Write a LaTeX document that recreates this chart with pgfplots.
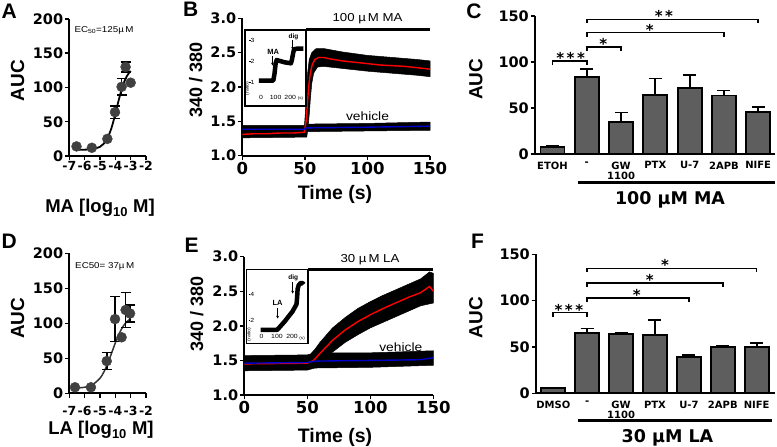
\documentclass[border=0pt]{standalone}
\usepackage{pgfplots}
\pgfplotsset{compat=1.18}
\usepackage{fontspec}
\setmainfont{Liberation Sans}
\newfontfamily\tickfont{DejaVu Sans}
\newfontfamily\annfont{Liberation Sans}[FakeStretch=1.15]
\usetikzlibrary{arrows.meta}
\newcommand\tf[1]{\tickfont\bfseries\fontsize{#1}{#1}\selectfont}
\newcommand\af[1]{\annfont\fontsize{#1}{#1}\selectfont}
\newcommand\lf[1]{\bfseries\fontsize{#1}{#1}\selectfont}
\definecolor{bargray}{gray}{0.37}
\definecolor{dotgray}{gray}{0.25}
\pgfplotsset{
  prism/.style={scale only axis, anchor=south west, clip=false,
    axis x line=bottom, axis y line=left, axis line style={line width=1.8pt,-},
    tick style={black, line width=1.5pt}, major tick length=4.5pt, tick align=outside,
    yticklabel style={font=\tf{14.5}, inner sep=1.5pt},
    xticklabel style={font=\tf{14.5}, inner sep=2pt}},
  inset/.style={scale only axis, anchor=south west, clip=false,
    xtick=\empty, ytick=\empty, axis line style={line width=1.1pt},
    axis background/.style={fill=white}},
  ebar/.style={error bars/.cd, y dir=both, y explicit,
    error bar style={line width=1.6pt, black},
    error mark options={rotate=90, line width=1.6pt, mark size=5pt, black}},
  bars/.style={ybar, bar width=24pt, fill=bargray, draw=black, line width=1.8pt,
    error bars/.cd, y dir=plus, y explicit,
    error bar style={line width=1.8pt, black},
    error mark options={rotate=90, line width=1.8pt, mark size=6.5pt, black}},
}
\begin{document}
\begin{tikzpicture}
\path[use as bounding box] (0,0) rectangle (777pt,447pt);

% ---------------- Panel A ----------------
\begin{axis}[prism, at={(69.3pt,291pt)}, width=76.7pt, height=137pt,
  xmin=-7, xmax=-2, ymin=0, ymax=200,
  xtick={-7,-6,-5,-4,-3,-2}, xticklabels={-7,-6,-5,-4,-3,-2},
  ytick={0,50,100,150,200}, yticklabels={0,50,100,150,200},
  xticklabel style={font=\tf{12.5}, inner sep=1pt}]
\addplot[black, line width=1.8pt, smooth] coordinates {
(-6.6,9.04)(-6.0,9.23)(-5.5,10.0)(-5.0,13.4)(-4.75,18.0)(-4.5,26.5)(-4.25,40.9)(-4.0,61.4)(-3.75,84.1)(-3.5,103.5)(-3.25,116.6)(-3.0,124.2)};
\addplot[black, only marks, mark=none, ebar] coordinates {
(-4.02,64) +- (0,9)
(-3.59,101) +- (0,12)
(-3.33,130) +- (0,7)};
\addplot[only marks, mark=*, mark size=5pt, mark options={fill=dotgray, draw=dotgray}] coordinates {
(-6.53,14)(-5.53,12)(-4.52,25)(-4.02,64)(-3.59,101)(-3.33,130)(-3.0,107)};
\end{axis}

% ---------------- Panel D ----------------
\begin{axis}[prism, at={(69.3pt,53.7pt)}, width=76.7pt, height=140pt,
  xmin=-7, xmax=-2, ymin=0, ymax=200,
  xtick={-7,-6,-5,-4,-3,-2}, xticklabels={-7,-6,-5,-4,-3,-2},
  ytick={0,50,100,150,200}, yticklabels={0,50,100,150,200},
  xticklabel style={font=\tf{12.5}, inner sep=1pt, yshift=-7pt}]
\addplot[black!80, line width=1.5pt, smooth] coordinates {
(-6.6,7.4)(-6.0,8.65)(-5.5,12.1)(-5.0,21.5)(-4.75,30.3)(-4.5,42.4)(-4.25,57.0)(-4.0,72.0)(-3.75,85.2)(-3.5,95.4)(-3.25,102.3)(-3.0,106.7)};
\addplot[black, only marks, mark=none, ebar] coordinates {
(-4.56,46) +- (0,12)
(-4.02,106) +- (0,32)
(-3.33,119) +- (0,25)
(-3.04,114) +- (0,12)};
\addplot[only marks, mark=*, mark size=5pt, mark options={fill=dotgray, draw=dotgray}] coordinates {
(-6.63,8.6)(-5.59,8.6)(-4.56,46)(-4.02,106)(-3.59,80)(-3.33,119)(-3.04,114)};
\end{axis}

% ---------------- Panel B ----------------
\begin{axis}[prism, at={(242.3pt,291.3pt)}, width=187.7pt, height=137.4pt,
  xmin=0, xmax=150, ymin=1, ymax=3,
  xtick={0,50,100,150}, xticklabels={0,50,100,150},
  ytick={1,1.5,2,2.5,3}, yticklabels={1.0,1.5,2.0,2.5,3.0},
  xticklabel style={font=\tf{16.5}}]
\addplot[fill=black, draw=black, line width=0.5pt] coordinates {
(0,1.44)(49.5,1.44)(51,1.46)(100,1.47)(150,1.49)(150,1.37)(100,1.36)(51,1.35)(49.5,1.33)(0,1.33)} -- cycle;
\addplot[fill=black, draw=black, line width=0.5pt] coordinates {
(0,1.37)(49.5,1.40)(50.3,1.6)(51.2,1.9)(52.2,2.2)(53.5,2.4)(55.5,2.5)(59,2.56)(65,2.56)(80,2.51)(100,2.46)(120,2.43)(140,2.40)(150,2.38)
(150,2.15)(140,2.17)(120,2.20)(100,2.23)(80,2.27)(65,2.30)(60,2.29)(57,2.2)(55.5,2.05)(54.5,1.85)(53.5,1.6)(52.5,1.4)(51.5,1.27)(49.5,1.27)(0,1.26)} -- cycle;
\addplot[red, line width=1.4pt] coordinates {
(0,1.31)(10,1.32)(20,1.32)(30,1.33)(40,1.33)(49.5,1.34)(51,1.5)(52,1.75)(53,2.0)(54,2.15)(55,2.26)(56,2.33)(58,2.40)(61,2.43)(65,2.43)(70,2.41)(80,2.38)(90,2.36)(100,2.34)(110,2.32)(120,2.31)(130,2.30)(140,2.28)(150,2.26)};
\addplot[blue!80!black, line width=1.4pt] coordinates {
(0,1.385)(49.5,1.385)(51,1.405)(100,1.415)(150,1.43)};
\end{axis}

% inset B
\begin{axis}[inset, at={(245pt,341pt)}, width=61pt, height=76pt,
  xmin=-110, xmax=308, ymin=-0.14, ymax=3.51]
\addplot[black, line width=4.5pt, line join=round] coordinates {
(-15,1.08)(84,1.08)(92,1.4)(100,1.9)(107,2.07)(130,2.02)(160,1.96)(205,1.91)(212,2.1)(220,2.4)(226,2.58)(250,2.62)(290,2.62)};
\node[font=\af{6}] at (axis cs:-58,3) {3};
\node[font=\af{6}] at (axis cs:-58,2) {2};
\node[font=\af{6}] at (axis cs:-58,1) {1};
\draw[line width=0.5pt] (axis cs:-82,3)--(axis cs:-72,3) (axis cs:-82,2)--(axis cs:-72,2) (axis cs:-82,1)--(axis cs:-72,1);
\node[font=\af{6}] at (axis cs:0,0.28) {0};
\node[font=\af{6}] at (axis cs:100,0.28) {100};
\node[font=\af{6}] at (axis cs:200,0.28) {200};
\node[font=\af{4}] at (axis cs:270,0.2) {(s)};
\node[font=\af{4.5}, rotate=90] at (axis cs:-93,0.71) {(ratio)};
\node[font=\lf{7.5}] at (axis cs:84,2.46) {MA};
\draw[-{Stealth[length=3pt,width=3pt]}, line width=0.8pt] (axis cs:78,2.24) -- (axis cs:78,1.8);
\node[font=\lf{6.5}] at (axis cs:222,3.2) {dig};
\draw[-{Stealth[length=3pt,width=3pt]}, line width=0.8pt] (axis cs:217,3.02) -- (axis cs:217,2.55);
\end{axis}

% ---------------- Panel E ----------------
\begin{axis}[prism, at={(244.3pt,52pt)}, width=189pt, height=138.3pt,
  xmin=0, xmax=150, ymin=1, ymax=3,
  xtick={0,50,100,150}, xticklabels={0,50,100,150},
  ytick={1,1.5,2,2.5,3}, yticklabels={1.0,1.5,2.0,2.5,3.0},
  xticklabel style={font=\tf{16.5}}]
\addplot[fill=black, draw=black, line width=0.5pt] coordinates {
(0,1.57)(50,1.58)(56,1.61)(100,1.61)(150,1.64)(150,1.43)(100,1.40)(56,1.39)(50,1.36)(0,1.35)} -- cycle;
\addplot[fill=black, draw=black, line width=0.5pt] coordinates {
(48,1.52)(52,1.58)(56,1.66)(60,1.76)(70,1.97)(80,2.12)(90,2.25)(100,2.35)(110,2.44)(120,2.52)(130,2.60)(140,2.68)(147,2.78)(150,2.76)
(150,2.33)(140,2.29)(130,2.21)(120,2.13)(110,2.05)(100,1.97)(90,1.87)(80,1.76)(70,1.62)(62,1.52)(55,1.48)} -- cycle;
\addplot[red, line width=1.4pt] coordinates {
(0,1.45)(50,1.46)(55,1.50)(60,1.60)(70,1.79)(80,1.94)(90,2.06)(100,2.16)(110,2.25)(120,2.33)(130,2.41)(140,2.48)(147,2.57)(150,2.50)};
\addplot[blue!80!black, line width=1.4pt] coordinates {
(0,1.46)(50,1.47)(56,1.49)(100,1.50)(140,1.51)(150,1.54)};
\end{axis}

% inset E
\begin{axis}[inset, at={(246.5pt,103.7pt)}, width=61.5pt, height=73.8pt,
  xmin=-96.8, xmax=300, ymin=0.288, ymax=5.88]
\addplot[black, line width=4.5pt, line join=round] coordinates {
(-5,1.3)(100,1.3)(110,1.42)(150,1.95)(200,2.7)(226,3.25)(230,3.8)(233,4.4)(240,4.7)(252,4.85)(265,4.85)(272,4.75)};
\node[font=\af{6}] at (axis cs:-60,4) {4};
\node[font=\af{6}] at (axis cs:-60,2) {2};
\draw[line width=0.5pt] (axis cs:-82,4)--(axis cs:-72,4) (axis cs:-82,2)--(axis cs:-72,2);
\node[font=\af{6}] at (axis cs:0,0.8) {0};
\node[font=\af{6}] at (axis cs:100,0.8) {100};
\node[font=\af{6}] at (axis cs:197,0.8) {200};
\node[font=\af{4}] at (axis cs:262,0.68) {(s)};
\node[font=\af{4.5}, rotate=90] at (axis cs:-80,0.95) {(ratio)};
\node[font=\lf{7.5}] at (axis cs:104,3.36) {LA};
\draw[-{Stealth[length=3pt,width=3pt]}, line width=0.8pt] (axis cs:104,2.96) -- (axis cs:104,2.15);
\node[font=\lf{6.5}] at (axis cs:205,5.28) {dig};
\draw[-{Stealth[length=3pt,width=3pt]}, line width=0.8pt] (axis cs:201,4.97) -- (axis cs:201,4.05);
\end{axis}

% ---------------- Panel C ----------------
\begin{axis}[prism, at={(535pt,293pt)}, width=240pt, height=138pt,
  xmin=-0.51, xmax=6.49, ymin=0, ymax=150,
  ytick={0,50,100,150}, yticklabels={0,50,100,150},
  xtick={0,1,2,3,4,5,6}, xticklabels={ETOH,-,{GW\\1100},PTX,U-7,2APB,NIFE},
  xtick style={draw=none},
  xticklabel style={font=\tf{10}, align=center, anchor=north, yshift=-1pt}]
\addplot[bars] coordinates {
(0,8) +- (0,1)
(1,84) +- (0,8)
(2,34.5) +- (0,10.5)
(3,64) +- (0,18)
(4,72) +- (0,14)
(5,63.5) +- (0,5.5)
(6,45.7) +- (0,5.3)};
\draw[line width=1.6pt] (axis cs:0,96.7)--(axis cs:0,101.1)--(axis cs:1,101.1)--(axis cs:1,96.7);
\draw[line width=1.6pt] (axis cs:1,112.3)--(axis cs:1,116.6)--(axis cs:2,116.6)--(axis cs:2,112.3);
\draw[line width=1.6pt] (axis cs:1,127.5)--(axis cs:1,131.9)--(axis cs:5,131.9)--(axis cs:5,127.5);
\draw[line width=1.6pt] (axis cs:1,142.7)--(axis cs:1,146.4)--(axis cs:6,146.4)--(axis cs:6,142.7);
\node[font=\tf{15}, anchor=north, inner sep=0pt] at (axis cs:0.53,111.2) {*\,*\,*};
\node[font=\tf{15}, anchor=north, inner sep=0pt] at (axis cs:1.48,125.7) {*};
\node[font=\tf{15}, anchor=north, inner sep=0pt] at (axis cs:2.84,141) {*};
\node[font=\tf{15}, anchor=north, inner sep=0pt] at (axis cs:3.25,156.5) {*\,*};
\end{axis}

% ---------------- Panel F ----------------
\begin{axis}[prism, at={(536pt,53.7pt)}, width=239pt, height=139pt,
  xmin=-0.51, xmax=6.54, ymin=0, ymax=150,
  ytick={0,50,100,150}, yticklabels={0,50,100,150},
  xtick={0,1,2,3,4,5,6}, xticklabels={DMSO,-,{GW\\1100},PTX,U-7,2APB,NIFE},
  xtick style={draw=none},
  xticklabel style={font=\tf{10}, align=center, anchor=north, yshift=-1pt}]
\addplot[bars] coordinates {
(0,5.4) +- (0,0.5)
(1,64.7) +- (0,5.3)
(2,63.7) +- (0,1.8)
(3,62.6) +- (0,16.4)
(4,38.8) +- (0,2.6)
(5,49.6) +- (0,1.8)
(6,50) +- (0,4)};
\draw[line width=1.6pt] (axis cs:0,82.6)--(axis cs:0,87)--(axis cs:1,87)--(axis cs:1,82.6);
\draw[line width=1.6pt] (axis cs:1,98.8)--(axis cs:1,103.1)--(axis cs:4,103.1)--(axis cs:4,98.8);
\draw[line width=1.6pt] (axis cs:1,115)--(axis cs:1,119.3)--(axis cs:5,119.3)--(axis cs:5,115);
\draw[line width=1.6pt] (axis cs:1,130.5)--(axis cs:1,134.8)--(axis cs:6,134.8)--(axis cs:6,130.5);
\node[font=\tf{15}, anchor=north, inner sep=0pt] at (axis cs:0.46,96.3) {*\,*\,*};
\node[font=\tf{15}, anchor=north, inner sep=0pt] at (axis cs:2.46,112.2) {*};
\node[font=\tf{15}, anchor=north, inner sep=0pt] at (axis cs:2.85,128.4) {*};
\node[font=\tf{15}, anchor=north, inner sep=0pt] at (axis cs:3.3,144.5) {*};
\end{axis}

% ---------------- annotations ----------------
\node[font=\lf{21}] at (9.2pt,436.2pt) {A};
\node[font=\lf{21}] at (190.8pt,437.8pt) {B};
\node[font=\lf{21}] at (474pt,435.3pt) {C};
\node[font=\lf{21}] at (9.2pt,206.2pt) {D};
\node[font=\lf{21}] at (191.7pt,202pt) {E};
\node[font=\lf{21}] at (477.5pt,206.2pt) {F};
\node[font=\lf{19}, rotate=90] at (17.5pt,366.2pt) {AUC};
\node[font=\lf{19}, rotate=90] at (17.5pt,128.7pt) {AUC};
\node[font=\lf{19}, rotate=90] at (475.8pt,367.8pt) {AUC};
\node[font=\lf{19}, rotate=90] at (475.8pt,129.5pt) {AUC};
\node[font=\lf{18}, rotate=90] at (195.8pt,367pt) {340 / 380};
\node[font=\lf{18}, rotate=90] at (196.7pt,132.8pt) {340 / 380};
\node[font=\lf{18.5}, anchor=base] at (100pt,234pt) {MA [log\textsubscript{10} M]};
\node[font=\lf{18.5}, anchor=base] at (101pt,12pt) {LA [log\textsubscript{10} M]};
\node[font=\lf{19.5}, anchor=base] at (335pt,247pt) {Time (s)};
\node[font=\lf{19.5}, anchor=base] at (335pt,4.3pt) {Time (s)};
\node[font=\af{8.5}] at (104pt,417pt) {EC\textsubscript{50}=125µ\,M};
\node[font=\af{8.5}] at (104.7pt,180.3pt) {EC50= 37µ\,M};
\draw[line width=2.5pt] (305.7pt,417.7pt) -- (430pt,417.7pt);
\node[font=\af{11.5}] at (367.5pt,428.7pt) {100 µ\,M MA};
\draw[line width=2.5pt] (308.3pt,177.7pt) -- (433.3pt,177.7pt);
\node[font=\af{11.5}] at (370pt,187pt) {30 µ\,M LA};
\node[font=\af{12}] at (367.5pt,331pt) {vehicle};
\node[font=\af{12}] at (400.8pt,99.3pt) {vehicle};
\draw[line width=2.5pt] (578.3pt,264.3pt) -- (775pt,264.3pt);
\node[font=\tf{17.5}, anchor=base] at (670pt,242pt) {100 µM MA};
\draw[line width=2.5pt] (578pt,26.3pt) -- (771.7pt,26.3pt);
\node[font=\tf{17.5}, anchor=base] at (667.5pt,4.3pt) {30 µM LA};
\end{tikzpicture}
\end{document}
